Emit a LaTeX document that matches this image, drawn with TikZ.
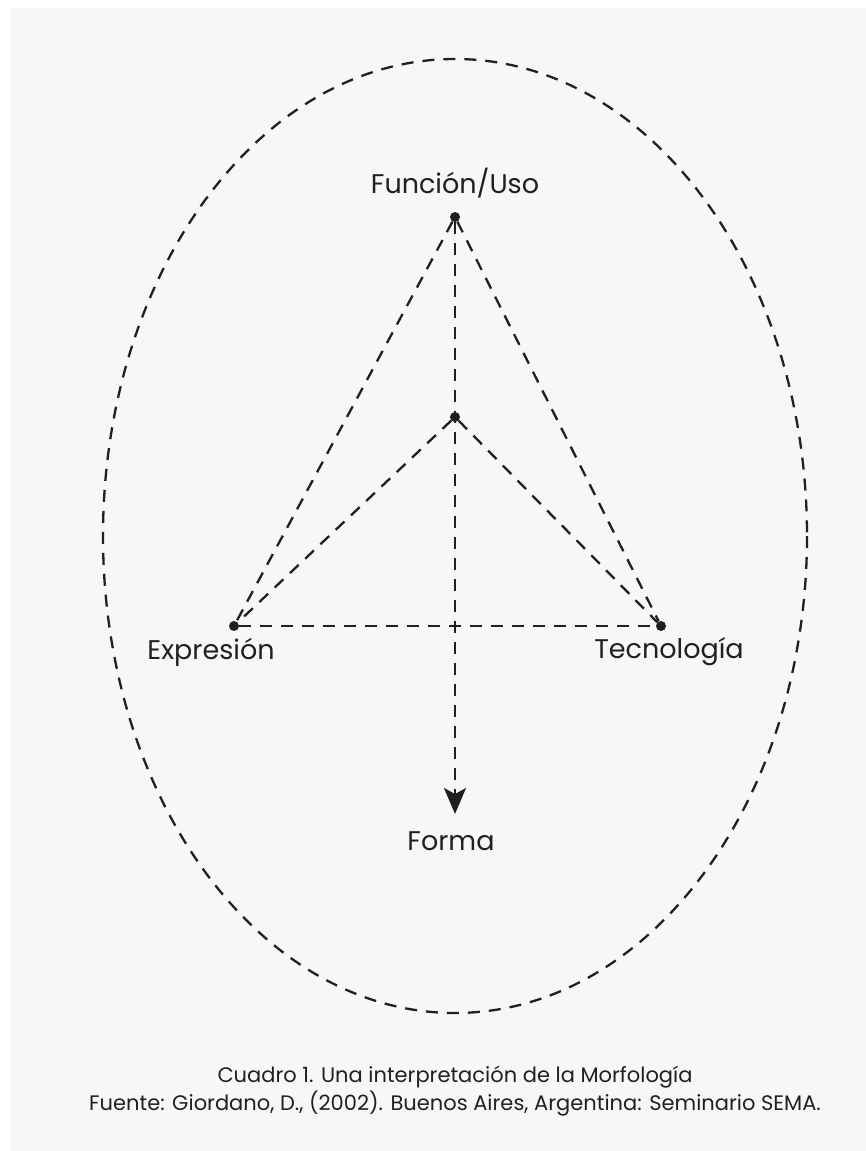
\documentclass[tikz,border=0pt]{standalone}
\usepackage{fontspec}
\setmainfont{Poppins}
\usepackage{tikz}
\usetikzlibrary{positioning, calc, arrows.meta}
\definecolor{paper}{HTML}{F6F7F7}
\definecolor{ink}{HTML}{231F20}
\tikzset{>=Stealth}
\tikzset{dashline/.style={ink, line width=2.3pt, dash pattern=on 12pt off 9pt}}
\tikzset{dot/.style={circle, fill=ink, inner sep=0pt, minimum size=10pt}}
\tikzset{label/.style={ink, font=\fontsize{27}{32}\selectfont, inner sep=0pt}}
\tikzset{caption/.style={ink, font=\fontsize{21}{28}\selectfont, align=center, inner sep=0pt}}

\begin{document}
\begin{tikzpicture}[x=1pt, y=-1pt]
      \fill[white] (0, 0) rectangle (866, 1151); %
      \fill[paper] (10, 8) rectangle (866, 1151); %
      \useasboundingbox (0, 0) rectangle (866, 1151); %
      \node[dot] (F) at (455, 217) {}; %
      \node[dot] (C) at (455, 417) {}; %
      \node[dot] (E) at (234, 626) {}; %
      \node[dot] (T) at (661, 626) {}; %
      \coordinate (tip) at (455, 814); %
      \draw[dashline] (455, 536) ellipse [x radius=352, y radius=477]; %
      \draw[dashline] (F) -- (E); %
      \draw[dashline] (F) -- (T); %
      \draw[dashline] (C) -- (E); %
      \draw[dashline] (C) -- (T); %
      \draw[dashline] (E) -- (T); %
      \draw[dashline, -{Stealth[length=26pt, width=22pt, inset=6pt]}] (F) -- (tip); %
      \node[label] (funcion) at (455, 183) {Función/Uso}; %
      \node[label] (expresion) at (211, 652) {Expresión}; %
      \node[label] (tecnologia) at (669, 652) {Tecnología}; %
      \node[label] (forma) at (451, 841) {Forma}; %
      \node[caption] (cuadro) at (455, 1091) {Cuadro 1. Una interpretación de la Morfología\\Fuente: Giordano, D., (2002). Buenos Aires, Argentina: Seminario SEMA.}; %
    \end{tikzpicture}
\end{document}
